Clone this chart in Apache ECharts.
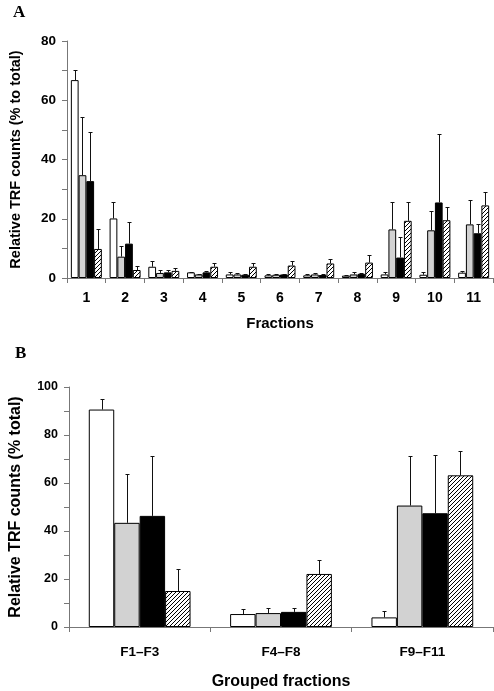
<!DOCTYPE html>
<html>
<head>
<meta charset="utf-8">
<script src="https://cdn.jsdelivr.net/npm/echarts@6/dist/echarts.min.js"></script>
<style>
html,body{margin:0;padding:0;background:#fff;}
#chart{width:494px;height:691px;}
</style>
</head>
<body>
<div id="chart"></div>
<script>
// ---- Panel A data ----
const fractionsA = ['1','2','3','4','5','6','7','8','9','10','11'];
const whiteA   = [66.8, 20.1, 3.8, 1.9, 1.2, 0.9, 0.9, 0.8, 1.2, 1.1, 1.8];
const whiteSdA = [3.5, 5.7, 2.1, 0.2, 0.8, 0.3, 0.6, 0.3, 0.8, 1.0, 0.7];
const grayA    = [34.7, 7.2, 1.7, 1.2, 1.2, 1.1, 1.2, 1.2, 16.4, 16.1, 18.1];
const graySdA  = [19.5, 3.5, 1.1, 0.2, 0.4, 0.4, 0.5, 0.8, 9.4, 6.4, 8.1];
const blackA   = [32.7, 11.6, 1.9, 1.9, 1.1, 1.2, 1.0, 1.4, 6.9, 25.5, 15.1];
const blackSdA = [16.7, 7.4, 0.8, 0.6, 0.2, 0.2, 0.3, 0.2, 7.0, 23.0, 3.0];
const hatchA   = [9.8, 2.7, 2.4, 3.8, 3.8, 4.2, 4.9, 5.2, 19.3, 19.5, 24.5];
const hatchSdA = [6.6, 1.5, 1.1, 1.1, 1.1, 1.4, 1.5, 2.5, 6.2, 4.3, 4.5];
const yTicksA  = [0, 20, 40, 60, 80];

// ---- Panel B data ----
const groupsB  = ['F1\u2013F3', 'F4\u2013F8', 'F9\u2013F11'];
const whiteB   = [90.6, 5.4, 4.0];
const whiteSdB = [4.2, 1.9, 2.5];
const grayB    = [43.4, 5.8, 50.6];
const graySdB  = [20.2, 2.1, 20.6];
const blackB   = [46.3, 6.3, 47.4];
const blackSdB = [24.9, 1.6, 24.3];
const hatchB   = [15.0, 22.1, 63.2];
const hatchSdB = [9.0, 5.8, 10.2];
const yTicksB  = [0, 20, 40, 60, 80, 100];

// hatch pattern
function makeHatch(n) {
  const c = document.createElement('canvas');
  c.width = n; c.height = n;
  const ctx = c.getContext('2d');
  ctx.fillStyle = '#fff'; ctx.fillRect(0, 0, n, n);
  ctx.fillStyle = '#000';
  for (let x = 0; x < n; x++) for (let y = 0; y < n; y++) {
    if ((x + y) % n === n - 1) ctx.fillRect(x, y, 1, 1);
  }
  return c;
}
const hatchFill = { image: makeHatch(4), repeat: 'repeat' };

const FONT = 'Liberation Sans, Arial, sans-serif';
const AXIS_COLOR = '#777';

const fills = ['#ffffff', '#d2d2d2', '#000000', hatchFill];

function barSeries(gridIdx, values, fillIdx, widthPct) {
  return {
    type: 'bar', xAxisIndex: gridIdx, yAxisIndex: gridIdx,
    data: values, barWidth: widthPct, barGap: '0%',
    itemStyle: { color: fills[fillIdx], borderColor: '#000', borderWidth: 1 },
    z: 2, silent: true
  };
}

function errSeries(gridIdx, values, sds, slot, widthPct) {
  const frac = parseFloat(widthPct) / 100;
  return {
    type: 'custom', xAxisIndex: gridIdx, yAxisIndex: gridIdx,
    data: values.map((v, i) => [i, v, v + sds[i]]),
    z: 5, silent: true,
    renderItem: function (params, api) {
      const band = api.size([1, 0])[0];
      const off = (slot - 1.5) * band * frac;
      const p0 = api.coord([api.value(0), api.value(1)]);
      const p1 = api.coord([api.value(0), api.value(2)]);
      const x = Math.round(p0[0] + off) + 0.5;
      const y0 = p0[1], y1 = Math.round(p1[1]) + 0.5;
      const style = { stroke: '#111', lineWidth: 1 };
      return {
        type: 'group',
        children: [
          { type: 'line', shape: { x1: x, y1: y0, x2: x, y2: y1 }, style: style },
          { type: 'line', shape: { x1: x - 2, y1: y1, x2: x + 2, y2: y1 }, style: style }
        ]
      };
    }
  };
}

const WA = '20%', WB = '18%';

const option = {
  animation: false,
  backgroundColor: '#fff',
  grid: [
    { left: 67, top: 41, width: 426, height: 237 },
    { left: 66, top: 387, width: 427, height: 241 }
  ],
  xAxis: [
    {
      gridIndex: 0, type: 'category', data: fractionsA,
      axisLine: { lineStyle: { color: AXIS_COLOR } },
      axisTick: { show: true, length: 5, lineStyle: { color: AXIS_COLOR } },
      axisLabel: { color: '#000', fontFamily: FONT, fontWeight: 'bold', fontSize: 14, margin: 13 },
      name: 'Fractions', nameLocation: 'middle', nameGap: 38,
      nameTextStyle: { color: '#000', fontFamily: FONT, fontWeight: 'bold', fontSize: 15 }
    },
    {
      gridIndex: 1, type: 'category', data: groupsB,
      axisLine: { lineStyle: { color: AXIS_COLOR } },
      axisTick: { show: true, length: 5, lineStyle: { color: AXIS_COLOR } },
      axisLabel: { color: '#000', fontFamily: FONT, fontWeight: 'bold', fontSize: 13.5, margin: 18 },
      name: 'Grouped fractions', nameLocation: 'middle', nameGap: 47,
      nameTextStyle: { color: '#000', fontFamily: FONT, fontWeight: 'bold', fontSize: 16 }
    }
  ],
  yAxis: [
    {
      gridIndex: 0, type: 'value', min: 0, max: 80, interval: 10,
      axisLine: { show: true, lineStyle: { color: AXIS_COLOR } },
      axisTick: { show: true, length: 5, lineStyle: { color: AXIS_COLOR } },
      splitLine: { show: false },
      axisLabel: {
        color: '#000', fontFamily: FONT, fontWeight: 'bold', fontSize: 13.5, margin: 11,
        formatter: v => (yTicksA.indexOf(v) >= 0 ? String(v) : '')
      },
      name: 'Relative TRF counts (% to total)', nameLocation: 'middle', nameGap: 44,
      nameTextStyle: { color: '#000', fontFamily: FONT, fontWeight: 'bold', fontSize: 14.5 }
    },
    {
      gridIndex: 1, type: 'value', min: 0, max: 100, interval: 10,
      axisLine: { show: true, lineStyle: { color: AXIS_COLOR } },
      axisTick: { show: true, length: 5, lineStyle: { color: AXIS_COLOR } },
      splitLine: { show: false },
      axisLabel: {
        color: '#000', fontFamily: FONT, fontWeight: 'bold', fontSize: 12.5, margin: 11,
        formatter: v => (yTicksB.indexOf(v) >= 0 ? String(v) : '')
      },
      name: 'Relative TRF counts (% total)', nameLocation: 'middle', nameGap: 45,
      nameTextStyle: { color: '#000', fontFamily: FONT, fontWeight: 'bold', fontSize: 16 }
    }
  ],
  graphic: [
    { type: 'text', left: 13, top: 4, style: { text: 'A', font: 'bold 17px "Liberation Serif", serif', fill: '#000' } },
    { type: 'text', left: 15, top: 345, style: { text: 'B', font: 'bold 17px "Liberation Serif", serif', fill: '#000' } }
  ],
  series: [
    barSeries(0, whiteA, 0, WA), barSeries(0, grayA, 1, WA), barSeries(0, blackA, 2, WA), barSeries(0, hatchA, 3, WA),
    errSeries(0, whiteA, whiteSdA, 0, WA), errSeries(0, grayA, graySdA, 1, WA),
    errSeries(0, blackA, blackSdA, 2, WA), errSeries(0, hatchA, hatchSdA, 3, WA),
    barSeries(1, whiteB, 0, WB), barSeries(1, grayB, 1, WB), barSeries(1, blackB, 2, WB), barSeries(1, hatchB, 3, WB),
    errSeries(1, whiteB, whiteSdB, 0, WB), errSeries(1, grayB, graySdB, 1, WB),
    errSeries(1, blackB, blackSdB, 2, WB), errSeries(1, hatchB, hatchSdB, 3, WB)
  ]
};

const chart = echarts.init(document.getElementById('chart'), null, { renderer: 'canvas' });
chart.setOption(option);
</script>
</body>
</html>
